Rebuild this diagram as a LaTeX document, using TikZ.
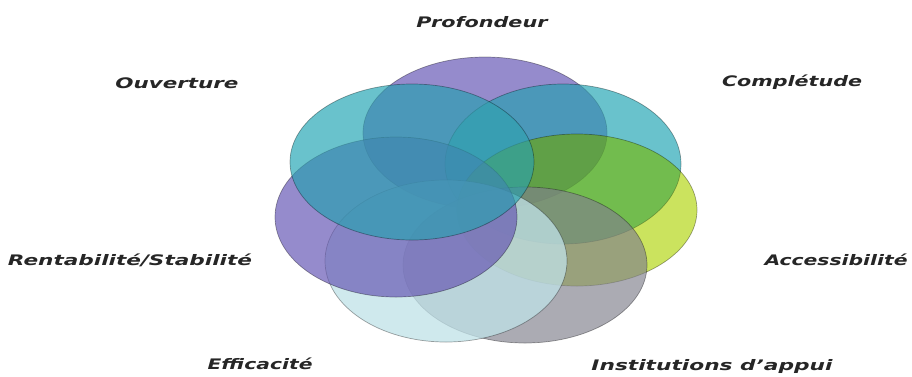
\documentclass[tikz,border=0pt]{standalone}
\usepackage{fontspec}
\setmainfont{DejaVu Sans}
\usepackage{graphicx}
\definecolor{cPurple}{RGB}{148,135,207}
\definecolor{cCyan}{RGB}{90,197,207}
\definecolor{cLime}{RGB}{207,230,85}
\definecolor{cGray}{RGB}{172,172,181}
\definecolor{cLight}{RGB}{192,226,232}
\tikzset{
  edge/.style={draw=black, draw opacity=0.35, line width=0.7pt},
  mixed/.style={fill=#1, fill opacity=0.6,
    postaction={fill=#1, fill opacity=0.5, blend mode=multiply},
    postaction={edge}},
  strong/.style={fill=#1, fill opacity=0.3,
    postaction={fill=#1, fill opacity=0.8, blend mode=multiply},
    postaction={edge}},
  plain/.style={fill=#1, fill opacity=0.75, postaction={edge}},
  lbl/.style={text=black!85, font=\fontsize{14.5}{16}\selectfont\bfseries\itshape, inner sep=0pt}
}
\newcommand{\lw}[2]{\resizebox{#1pt}{\height}{#2}}
\begin{document}
\begin{tikzpicture}[x=1pt,y=-1pt]
\useasboundingbox (0,0) rectangle (912,376);
\fill[white] (0,0) rectangle (912,376);
% petals (order matters for blending)
\path[mixed=cPurple] (485,133) ellipse [x radius=122, y radius=76];
\path[mixed=cCyan] (563,164) ellipse [x radius=118, y radius=80];
\path[strong=cLime] (577,210) ellipse [x radius=120, y radius=76];
\path[mixed=cGray] (525,265) ellipse [x radius=122, y radius=78];
\path[plain=cLight] (446,261) ellipse [x radius=121, y radius=81];
\path[mixed=cPurple] (396,217) ellipse [x radius=121, y radius=80];
\path[mixed=cCyan] (412,162) ellipse [x radius=122, y radius=78];
% labels
\node[lbl] (prof) at (482,22) {\lw{131}{Profondeur}};
\node[lbl] (ouv) at (177,83) {\lw{123}{Ouverture}};
\node[lbl] (comp) at (792,82) {\lw{140}{Complétude}};
\node[lbl] (acc) at (836,260) {\lw{143}{Accessibilité}};
\node[lbl] (rent) at (130,260) {\lw{244}{Rentabilité/Stabilité}};
\node[lbl] (eff) at (260,364) {\lw{105}{Efficacité}};
\node[lbl] (inst) at (712,366) {\lw{241}{Institutions d'appui}};
\end{tikzpicture}
\end{document}
